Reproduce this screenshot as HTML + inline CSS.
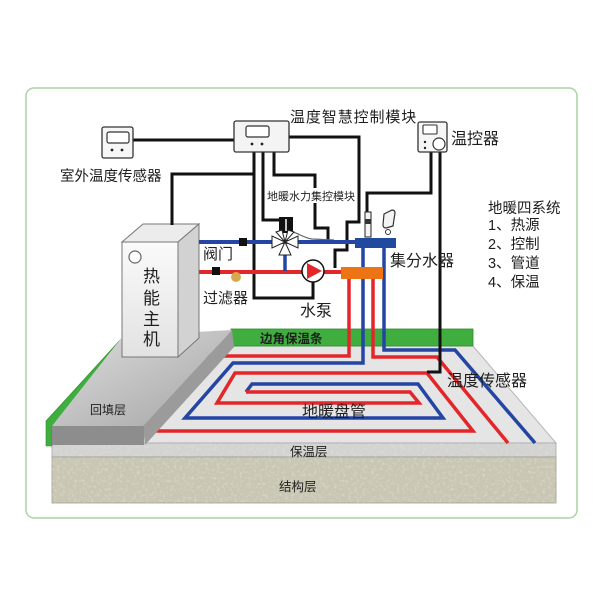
<!DOCTYPE html>
<html><head><meta charset="utf-8">
<style>
html,body{margin:0;padding:0;background:#fff;}
svg{display:block;}
text{font-family:"Liberation Sans","Noto Sans CJK SC",sans-serif;fill:#1e1e1e;}
</style></head>
<body>
<svg width="600" height="600" viewBox="0 0 600 600" xmlns="http://www.w3.org/2000/svg">
<defs>
  <linearGradient id="bf" x1="0" y1="0" x2="1" y2="1">
    <stop offset="0" stop-color="#dedede"/><stop offset="1" stop-color="#a4a4a4"/>
  </linearGradient>
  <linearGradient id="bx" x1="0" y1="0" x2="0" y2="1">
    <stop offset="0" stop-color="#fafafa"/><stop offset="1" stop-color="#e2e2e2"/>
  </linearGradient>
  <filter id="noise" x="0" y="0" width="100%" height="100%">
    <feTurbulence type="fractalNoise" baseFrequency="0.35" numOctaves="2" seed="3"/>
    <feColorMatrix values="0 0 0 0 1  0 0 0 0 1  0 0 0 0 1  0 0 0 1.1 -0.55"/>
  </filter>
</defs>

<!-- frame -->
<rect x="26" y="88" width="551" height="430" rx="8" fill="#fff" stroke="#a9d4a2" stroke-width="1.5"/>

<!-- floor top surface -->
<polygon points="200,346 473,346 556,443 100,443" fill="#e5e5e5" stroke="#b5b5b5" stroke-width="1"/>
<!-- insulation layer -->
<rect x="52" y="443" width="504" height="14" fill="#d3d3d1" stroke="#a9a9a9" stroke-width="0.8"/>
<rect x="52" y="443" width="504" height="14" filter="url(#noise)" opacity="0.5"/>
<!-- structure layer -->
<rect x="52" y="457" width="504" height="46" fill="#c9c7b3" stroke="#9e9d92" stroke-width="0.8"/>
<rect x="52" y="457" width="504" height="46" filter="url(#noise)" opacity="0.7"/>

<!-- green edge strip -->
<rect x="231" y="329" width="242" height="17" fill="#3fae3f" stroke="#2e8a2e" stroke-width="0.8"/>

<!-- floor pipes -->
<g fill="none" stroke-width="3.5" stroke-linejoin="miter">
  <polyline stroke="#e3262a" points="349,279 349,356 200,356"/>
  <polyline stroke="#2445a3" points="363,247 363,363 233,363 185,418 443,418 418,384 252,384 246,392"/>
  <polyline stroke="#e3262a" points="246,392 410,392 419,403 217,403 235,373 427,373 473,431 130,431"/>
  <polyline stroke="#e3262a" points="373,279 373,357 437,357 508,443"/>
  <polyline stroke="#2445a3" points="384,247 384,350 455,350 535,443"/>
</g>

<!-- green left strip -->
<polygon points="46,421 120,340 121,347 52,426 52,446 46,446" fill="#3fae3f" stroke="#2e8a2e" stroke-width="0.6"/>
<!-- backfill layer -->
<polygon points="52,426 123,336 232,330 143,426" fill="url(#bf)"/>
<polygon points="143,426 232,330 234,347 145,445" fill="#9b9b9b"/>
<rect x="52" y="426" width="92" height="19" fill="#8d8d8d"/>

<!-- boiler -->
<polygon points="122,242 143,224 199,224 178,242" fill="#ececec" stroke="#777" stroke-width="1"/>
<polygon points="178,242 199,224 199,338 178,357" fill="#d2d2d2" stroke="#777" stroke-width="1"/>
<rect x="122" y="242" width="56" height="115" fill="url(#bx)" stroke="#777" stroke-width="1"/>
<circle cx="135" cy="257" r="6" fill="#fff" stroke="#666" stroke-width="1.2"/>

<!-- wires -->
<g fill="none" stroke="#111" stroke-width="3">
  <line x1="133" y1="140" x2="234" y2="140"/>
  <polyline points="289,137 359,137 359,222 347,222 347,250 335,250 335,268"/>
  <polyline points="172,225 172,174 254,174"/>
  <polyline points="254,152 254,298 313,298 313,282"/>
  <polyline points="263,152 263,220 280,220"/>
  <polyline points="274,152 274,175 315,175 315,228 328,228 328,240"/>
  <polyline points="431,152 431,193 367,193 367,213"/>
  <polyline points="440,152 440,372 427,372"/>
</g>
<path d="M293,232 C300,234 304,238 312,239 L334,240" fill="none" stroke="#666" stroke-width="1.2"/>

<!-- main pipes -->
<line x1="199" y1="242" x2="356" y2="242" stroke="#2445a3" stroke-width="4"/>
<line x1="199" y1="272" x2="342" y2="272" stroke="#e3262a" stroke-width="4"/>
<line x1="285" y1="248" x2="285" y2="271" stroke="#2445a3" stroke-width="3.5"/>

<!-- manifolds -->
<rect x="355" y="238" width="41" height="10" fill="#1f4aa0"/>
<rect x="341" y="267" width="42" height="12" fill="#ec7414"/>

<!-- sensor tube + gauge -->
<rect x="365" y="212" width="6" height="25" fill="#f3f3f3" stroke="#222" stroke-width="1"/>
<rect x="365" y="219" width="6" height="5" fill="#333"/>
<path d="M384,214 L392,210 Q395,210 395,213 L393,226 L386,228 Q383,228 383,225 Z" fill="#f3f3f3" stroke="#333" stroke-width="1.2"/>
<circle cx="388" cy="232" r="2.5" fill="#fff" stroke="#333" stroke-width="1"/>

<!-- valve -->
<rect x="279" y="217" width="14" height="16" fill="#111"/>
<line x1="286" y1="219" x2="286" y2="231" stroke="#fff" stroke-width="1.5"/>
<g fill="#fff" stroke="#222" stroke-width="1">
  <polygon points="272,236 272,248 285,242"/>
  <polygon points="298,236 298,248 285,242"/>
  <polygon points="279,255 291,255 285,242"/>
  <polygon points="276,232 282,230 285,242"/>
  <polygon points="294,232 288,230 285,242"/>
</g>
<!-- pump -->
<circle cx="313" cy="271" r="11" fill="#fff" stroke="#111" stroke-width="1.5"/>
<polygon points="307,263 307,279 322,271" fill="#e3262a"/>
<!-- small valves & filter -->
<rect x="239" y="238" width="8" height="8" fill="#111"/>
<rect x="212" y="267" width="8" height="8" fill="#111"/>
<circle cx="236" cy="277" r="5" fill="#d6a94c"/>

<!-- outdoor sensor -->
<rect x="102" y="127" width="31" height="31" rx="2" fill="#f6f6f6" stroke="#333" stroke-width="1.3"/>
<rect x="107" y="132" width="22" height="11" rx="2" fill="#fff" stroke="#333" stroke-width="1.2"/>
<circle cx="112" cy="150" r="1.4" fill="#222"/><circle cx="122" cy="150" r="1.4" fill="#222"/>
<!-- control module -->
<rect x="234" y="121" width="55" height="31" rx="2" fill="#f4f4f4" stroke="#333" stroke-width="1.3"/>
<rect x="246" y="126" width="23" height="11" rx="2" fill="#fff" stroke="#333" stroke-width="1.2"/>
<circle cx="252" cy="144" r="1.4" fill="#222"/><circle cx="262" cy="144" r="1.4" fill="#222"/>
<!-- thermostat -->
<rect x="418" y="122" width="29" height="30" rx="2" fill="#f6f6f6" stroke="#333" stroke-width="1.3"/>
<rect x="423" y="125" width="14" height="9" rx="1" fill="#fff" stroke="#333" stroke-width="1.1"/>
<circle cx="439" cy="144" r="6" fill="#fff" stroke="#333" stroke-width="1.2"/>
<circle cx="425" cy="142" r="1.2" fill="#222"/><circle cx="425" cy="148" r="1.2" fill="#222"/>

<!-- labels -->
<text x="290" y="122" font-size="15" letter-spacing="0.9">温度智慧控制模块</text>
<text x="60" y="181" font-size="14.5">室外温度传感器</text>
<text x="451" y="144" font-size="16">温控器</text>
<rect x="266" y="188" width="91" height="15" fill="#fff"/>
<text x="267" y="200" font-size="11">地暖水力集控模块</text>
<text x="203" y="259" font-size="15">阀门</text>
<text x="203" y="303" font-size="15">过滤器</text>
<text x="300" y="316" font-size="16">水泵</text>
<text x="390" y="266" font-size="16">集分水器</text>
<g font-size="17">
  <text x="143" y="282">热</text>
  <text x="143" y="304">能</text>
  <text x="143" y="325">主</text>
  <text x="143" y="345">机</text>
</g>
<text x="260" y="343" font-size="12.5" font-weight="bold">边角保温条</text>
<text x="90" y="414" font-size="12">回填层</text>
<text x="302" y="417" font-size="16">地暖盘管</text>
<text x="447" y="386" font-size="16">温度传感器</text>
<text x="290" y="456" font-size="12.5">保温层</text>
<text x="279" y="491" font-size="12.5">结构层</text>
<g font-size="14.5">
  <text x="488" y="213">地暖四系统</text>
  <text x="488" y="230">1、热源</text>
  <text x="488" y="249">2、控制</text>
  <text x="488" y="268">3、管道</text>
  <text x="488" y="287">4、保温</text>
</g>
</svg>
</body></html>
